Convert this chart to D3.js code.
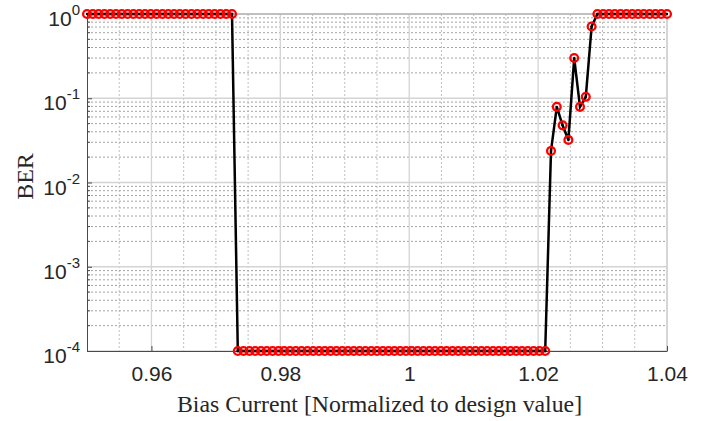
<!DOCTYPE html>
<html><head><meta charset="utf-8">
<script src="https://cdn.jsdelivr.net/npm/d3@7"></script>
<style>body{margin:0;background:#fff}svg{display:block}</style>
</head><body>
<svg id="c" width="709" height="421"></svg>
<script>
const biasCurrent = [
 0.9500,0.9509,0.9518,0.9527,0.9536,0.9545,0.9554,0.9563,0.9572,0.9581,
 0.9590,0.9599,0.9608,0.9617,0.9626,0.9635,0.9644,0.9653,0.9662,0.9671,
 0.9680,0.9689,0.9698,0.9707,0.9716,0.9725,0.9734,0.9743,0.9752,0.9761,
 0.9770,0.9779,0.9788,0.9797,0.9806,0.9815,0.9824,0.9833,0.9842,0.9851,
 0.9860,0.9869,0.9878,0.9887,0.9896,0.9905,0.9914,0.9923,0.9932,0.9941,
 0.9950,0.9959,0.9968,0.9977,0.9986,0.9995,1.0004,1.0013,1.0022,1.0031,
 1.0040,1.0049,1.0058,1.0067,1.0076,1.0085,1.0094,1.0103,1.0112,1.0121,
 1.0130,1.0139,1.0148,1.0157,1.0166,1.0175,1.0184,1.0193,1.0202,1.0211,
 1.0220,1.0229,1.0238,1.0247,1.0256,1.0265,1.0274,1.0283,1.0292,1.0301,
 1.0310,1.0319,1.0328,1.0337,1.0346,1.0355,1.0364,1.0373,1.0382,1.0391,
 1.0400];
const ber = [
 1,1,1,1,1,1,1,1,1,1,
 1,1,1,1,1,1,1,1,1,1,
 1,1,1,1,1,1,1e-4,1e-4,1e-4,1e-4,
 1e-4,1e-4,1e-4,1e-4,1e-4,1e-4,1e-4,1e-4,1e-4,1e-4,
 1e-4,1e-4,1e-4,1e-4,1e-4,1e-4,1e-4,1e-4,1e-4,1e-4,
 1e-4,1e-4,1e-4,1e-4,1e-4,1e-4,1e-4,1e-4,1e-4,1e-4,
 1e-4,1e-4,1e-4,1e-4,1e-4,1e-4,1e-4,1e-4,1e-4,1e-4,
 1e-4,1e-4,1e-4,1e-4,1e-4,1e-4,1e-4,1e-4,1e-4,1e-4,
 0.0237,0.079,0.0477,0.032,0.30,0.079,0.104,0.71,1,1,
 1,1,1,1,1,1,1,1,1,1,
 1];
const xTicks = [0.96, 0.98, 1.00, 1.02, 1.04];
const xTickLabels = ["0.96", "0.98", "1", "1.02", "1.04"];
const xMinorTicks = [0.955,0.965,0.97,0.975,0.985,0.99,0.995,1.005,1.01,1.015,1.025,1.03,1.035];
const yTickExps = [0, -1, -2, -3, -4];
const xLabel = "Bias Current [Normalized to design value]";
const yLabel = "BER";

const svg = d3.select("#c");
const L = 87, R = 667, T = 14, B = 351;
const x = d3.scaleLinear().domain([0.95, 1.04]).range([L, R]);
const y = d3.scaleLog().domain([1e-4, 1]).range([B, T]);

const grid = svg.append("g");
const yMinor = [];
for (const e of [-4,-3,-2,-1]) for (let m = 2; m <= 9; m++) yMinor.push(m * Math.pow(10, e));
grid.selectAll(".ym").data(yMinor).join("line")
  .attr("x1", L).attr("x2", R).attr("y1", d => y(d)).attr("y2", d => y(d))
  .attr("stroke", "#8c8c8c").attr("stroke-width", 0.8).attr("stroke-dasharray", "2,2");
grid.selectAll(".xm").data(xMinorTicks).join("line")
  .attr("x1", d => x(d)).attr("x2", d => x(d)).attr("y1", T).attr("y2", B)
  .attr("stroke", "#b0b0b0").attr("stroke-width", 0.8).attr("stroke-dasharray", "2,2");
grid.selectAll(".yM").data(yTickExps.map(e => Math.pow(10, e))).join("line")
  .attr("x1", L).attr("x2", R).attr("y1", d => y(d)).attr("y2", d => y(d))
  .attr("stroke", "#d4d4d4").attr("stroke-width", 1.3);
grid.selectAll(".xM").data(xTicks).join("line")
  .attr("x1", d => x(d)).attr("x2", d => x(d)).attr("y1", T).attr("y2", B)
  .attr("stroke", "#d4d4d4").attr("stroke-width", 1.3);

svg.append("line").attr("x1", L).attr("x2", R).attr("y1", T).attr("y2", T).attr("stroke", "#a0a0a0").attr("stroke-width", 1);
svg.append("line").attr("x1", R).attr("x2", R).attr("y1", T).attr("y2", B).attr("stroke", "#c8c8c8").attr("stroke-width", 1);

const xAxis = d3.axisBottom(x).tickValues(xTicks).tickFormat((d, i) => xTickLabels[i]).tickSizeInner(-5).tickSizeOuter(0).tickPadding(15);
const gx = svg.append("g").attr("transform", `translate(0,${B})`).call(xAxis);
gx.select(".domain").attr("stroke", "#4a4a4a");
gx.selectAll(".tick line").attr("stroke", "#4a4a4a");
gx.selectAll("text").attr("font-family", "Liberation Sans, Arial, sans-serif").attr("font-size", 21).attr("fill", "#262626");

const yAxis = d3.axisLeft(y).tickValues(yTickExps.map(e => Math.pow(10, e))).tickFormat("").tickSizeInner(-5).tickSizeOuter(0);
const gy = svg.append("g").attr("transform", `translate(${L},0)`).call(yAxis);
gy.select(".domain").attr("stroke", "#4a4a4a");
gy.selectAll(".tick line").attr("stroke", "#4a4a4a");
svg.append("g").selectAll("line").data(yMinor).join("line")
  .attr("x1", L).attr("x2", L + 3).attr("y1", d => y(d)).attr("y2", d => y(d))
  .attr("stroke", "#4a4a4a").attr("stroke-width", 1);

const yl = svg.append("g");
yTickExps.forEach(e => {
  const t = yl.append("text").attr("x", 80).attr("y", y(Math.pow(10, e)) + 12)
    .attr("text-anchor", "end").attr("font-family", "Liberation Sans, Arial, sans-serif")
    .attr("font-size", 21).attr("fill", "#262626");
  t.append("tspan").text("10");
  t.append("tspan").attr("dy", -11).attr("font-size", 15).text(String(e));
});

const pts = biasCurrent.map((v, i) => [v, ber[i]]);
svg.append("path").datum(pts)
  .attr("d", d3.line().x(d => x(d[0])).y(d => y(d[1])))
  .attr("fill", "none").attr("stroke", "#000").attr("stroke-width", 2.5);
svg.append("g").selectAll("circle").data(pts).join("circle")
  .attr("cx", d => x(d[0])).attr("cy", d => y(d[1])).attr("r", 3.9)
  .attr("fill", "none").attr("stroke", "#ff0000").attr("stroke-width", 2.3);
svg.append("g").selectAll("circle").data(pts).join("circle")
  .attr("cx", d => x(d[0])).attr("cy", d => y(d[1])).attr("r", 1.2)
  .attr("fill", "#000");

svg.append("text").attr("x", 177).attr("y", 412).attr("text-anchor", "start")
  .attr("font-family", "Liberation Serif, Times New Roman, serif").attr("font-size", 23.8).attr("fill", "#262626")
  .text(xLabel);
svg.append("text").attr("transform", `translate(33,${(T + B) / 2 - 6}) rotate(-90)`).attr("text-anchor", "middle")
  .attr("font-family", "Liberation Serif, Times New Roman, serif").attr("font-size", 24).attr("fill", "#262626")
  .text(yLabel);
</script>
</body></html>
